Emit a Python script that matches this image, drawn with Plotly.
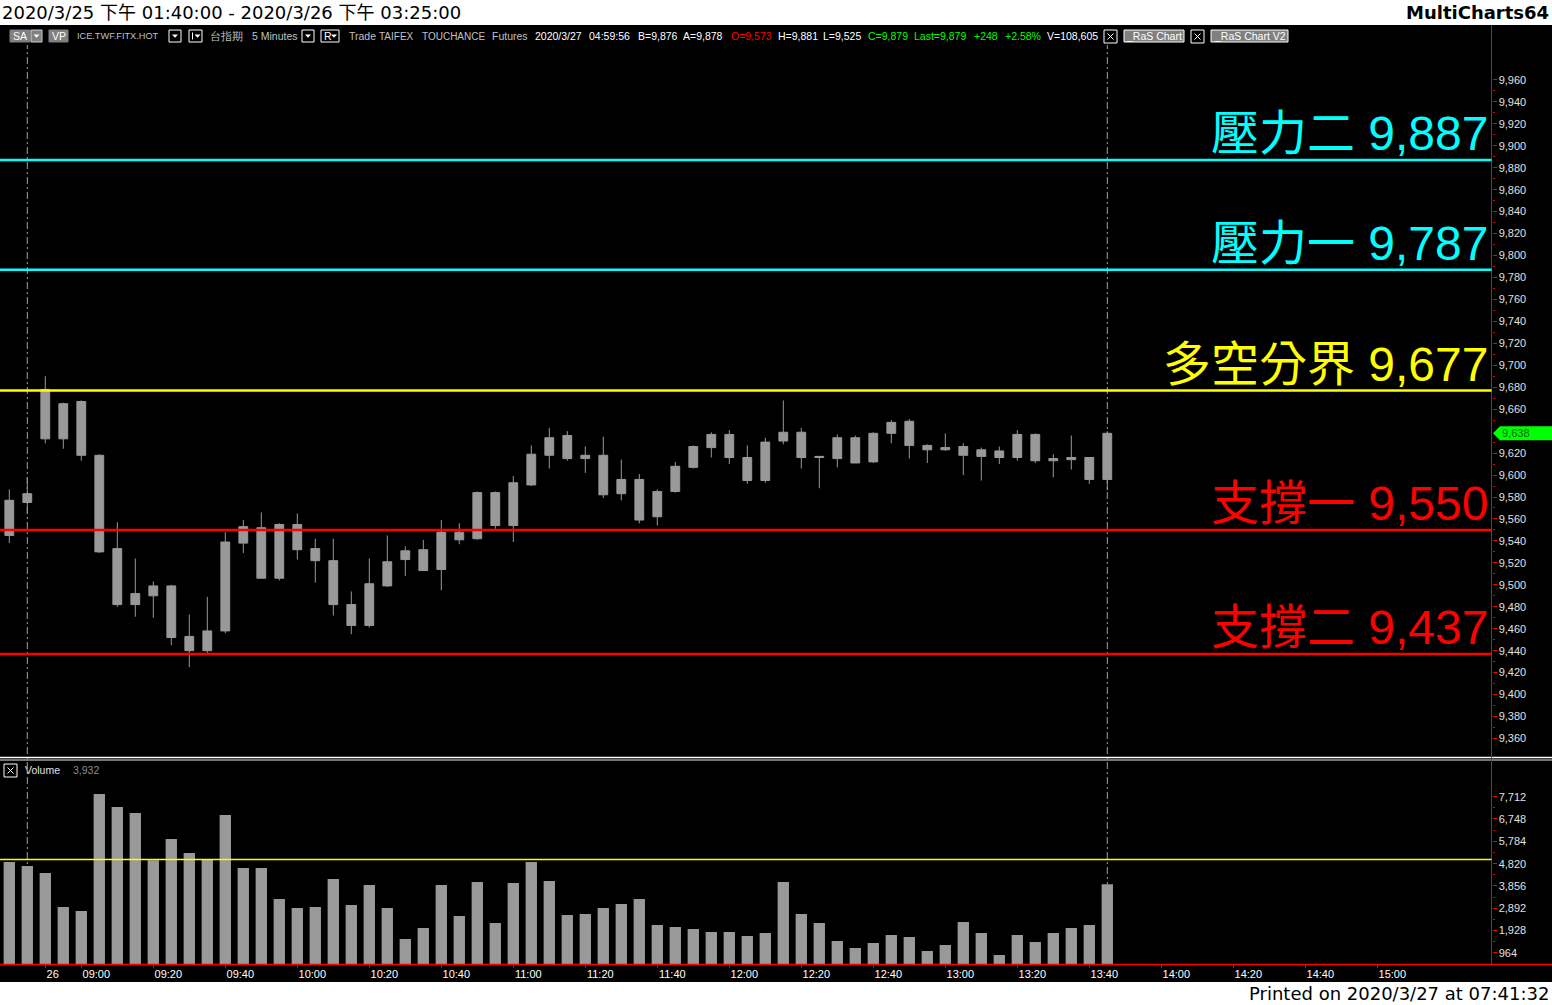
import plotly.graph_objects as go

# ---------------- data ----------------
bar_times = [
    "2020/3/25 13:45",
    "2020/3/26 08:45", "2020/3/26 08:50", "2020/3/26 08:55", "2020/3/26 09:00", "2020/3/26 09:05",
    "2020/3/26 09:10", "2020/3/26 09:15", "2020/3/26 09:20", "2020/3/26 09:25", "2020/3/26 09:30",
    "2020/3/26 09:35", "2020/3/26 09:40", "2020/3/26 09:45", "2020/3/26 09:50", "2020/3/26 09:55",
    "2020/3/26 10:00", "2020/3/26 10:05", "2020/3/26 10:10", "2020/3/26 10:15", "2020/3/26 10:20",
    "2020/3/26 10:25", "2020/3/26 10:30", "2020/3/26 10:35", "2020/3/26 10:40", "2020/3/26 10:45",
    "2020/3/26 10:50", "2020/3/26 10:55", "2020/3/26 11:00", "2020/3/26 11:05", "2020/3/26 11:10",
    "2020/3/26 11:15", "2020/3/26 11:20", "2020/3/26 11:25", "2020/3/26 11:30", "2020/3/26 11:35",
    "2020/3/26 11:40", "2020/3/26 11:45", "2020/3/26 11:50", "2020/3/26 11:55", "2020/3/26 12:00",
    "2020/3/26 12:05", "2020/3/26 12:10", "2020/3/26 12:15", "2020/3/26 12:20", "2020/3/26 12:25",
    "2020/3/26 12:30", "2020/3/26 12:35", "2020/3/26 12:40", "2020/3/26 12:45", "2020/3/26 12:50",
    "2020/3/26 12:55", "2020/3/26 13:00", "2020/3/26 13:05", "2020/3/26 13:10", "2020/3/26 13:15",
    "2020/3/26 13:20", "2020/3/26 13:25", "2020/3/26 13:30", "2020/3/26 13:35", "2020/3/26 13:40",
    "2020/3/26 13:45",
]

opens = [9545, 9575, 9678, 9633, 9667, 9618, 9533, 9482, 9490, 9499,
         9453, 9440, 9458, 9538, 9552, 9506, 9555, 9533, 9522, 9482,
         9463, 9499, 9523, 9532, 9514, 9548, 9542, 9584, 9554, 9591,
         9618, 9636, 9615, 9618, 9583, 9596, 9562, 9585, 9607, 9625,
         9637, 9616, 9595, 9631, 9639, 9616, 9615, 9634, 9612, 9638,
         9649, 9627, 9623, 9626, 9617, 9622, 9616, 9637, 9613, 9614,
         9616, 9596]
highs = [9587, 9598, 9690, 9666, 9668, 9619, 9557, 9524, 9503, 9500,
         9473, 9489, 9548, 9559, 9566, 9556, 9565, 9542, 9542, 9494,
         9524, 9545, 9535, 9541, 9559, 9556, 9585, 9585, 9599, 9627,
         9643, 9640, 9626, 9635, 9614, 9601, 9587, 9612, 9627, 9639,
         9641, 9627, 9634, 9668, 9643, 9617, 9637, 9636, 9639, 9650,
         9651, 9628, 9638, 9629, 9625, 9626, 9641, 9638, 9619, 9636,
         9616, 9640]
lows = [9538, 9565, 9629, 9624, 9613, 9529, 9480, 9471, 9470, 9445,
        9425, 9438, 9456, 9529, 9506, 9504, 9523, 9502, 9472, 9455,
        9461, 9498, 9508, 9513, 9495, 9537, 9541, 9551, 9539, 9590,
        9606, 9613, 9602, 9579, 9577, 9556, 9554, 9584, 9606, 9616,
        9610, 9592, 9593, 9628, 9606, 9588, 9607, 9611, 9611, 9629,
        9615, 9611, 9622, 9600, 9595, 9610, 9613, 9611, 9598, 9605,
        9592, 9586]
closes = [9577, 9583, 9633, 9665, 9618, 9530, 9482, 9492, 9499, 9452,
          9440, 9458, 9539, 9553, 9506, 9555, 9532, 9522, 9482, 9463,
          9501, 9521, 9531, 9513, 9548, 9541, 9584, 9554, 9593, 9619,
          9634, 9615, 9618, 9582, 9596, 9559, 9585, 9608, 9626, 9637,
          9616, 9595, 9630, 9639, 9616, 9617, 9634, 9611, 9638, 9648,
          9627, 9623, 9625, 9618, 9623, 9616, 9637, 9613, 9615, 9616,
          9596, 9638]
volumes = [4891, 4718, 4416, 2948, 2776, 7827, 7265, 7006, 4964, 5884,
           5280, 5021, 6920, 4632, 4632, 3294, 2905, 2948, 4157, 3035,
           3898, 2905, 1567, 2042, 3898, 2560, 4028, 2258, 3985, 4891,
           4071, 2603, 2646, 2905, 3078, 3294, 2171, 2085, 1999, 1869,
           1869, 1697, 1826, 4028, 2646, 2258, 1481, 1179, 1394, 1740,
           1653, 1049, 1308, 2301, 1826, 876, 1740, 1438, 1826, 2042,
           2171, 3932]
volume_ref_line = 5000

level_names = ["壓力二", "壓力一", "多空分界", "支撐一", "支撐二"]
level_values = [9887, 9787, 9677, 9550, 9437]

tick_times = ["08:50", "09:00", "09:20", "09:40", "10:00", "10:20", "10:40", "11:00",
              "11:20", "11:40", "12:00", "12:20", "12:40", "13:00", "13:20", "13:40",
              "14:00", "14:20", "14:40", "15:00"]
tick_text = ["26", "09:00", "09:20", "09:40", "10:00", "10:20", "10:40", "11:00",
             "11:20", "11:40", "12:00", "12:20", "12:40", "13:00", "13:20", "13:40",
             "14:00", "14:20", "14:40", "15:00"]

price_ticks = list(range(9360, 9961, 20))
volume_step = 964
volume_ticks = [volume_step * k for k in range(1, 9)]

title_text = "2020/3/25 下午 01:40:00 - 2020/3/26 下午 03:25:00"
app_text = "MultiCharts64"
printed_text = "Printed on 2020/3/27 at 07:41:32"
header_items = [
    ("ICE.TWF.FITX.HOT", "grey"), ("台指期", "grey"), ("5 Minutes", "grey"),
    ("Trade", "grey"), ("TAIFEX", "grey"), ("TOUCHANCE", "grey"), ("Futures", "grey"),
    ("2020/3/27", "white"), ("04:59:56", "white"), ("B=9,876", "white"), ("A=9,878", "white"),
    ("O=9,573", "red"), ("H=9,881", "white"), ("L=9,525", "white"),
    ("C=9,879", "green"), ("Last=9,879", "green"), ("+248", "green"), ("+2.58%", "green"),
    ("V=108,605", "white"),
]

# ---------------- styles / layout ----------------
W, H = 1552, 1005
GREY = "#999999"
LEVEL_COLORS = ["#00FFFF", "#00FFFF", "#FFFF00", "#FF0000", "#FF0000"]
TB_COLORS = {"grey": "#C0C0C0", "white": "#FFFFFF", "red": "#FF0000", "green": "#00FF00"}
HEADER_X = [75, 208, 250, 347, 377, 420, 490, 533, 587, 636, 681, 729, 776, 821, 866, 912, 972, 1003, 1045]
HEADER_SIZE = [9.2, 10.5, 10.5, 10.5, 10.0, 10.0, 10.5, 10.5, 10.5, 10.5, 10.5, 10.5, 10.5, 10.5, 10.5, 10.5, 10.5, 10.5, 10.5]
FONT = "Liberation Sans, Arial, sans-serif"
CJK_FONT = "Liberation Sans, Noto Sans CJK TC, sans-serif"

AX_X = 1491.5
PRICE_TOP, PRICE_BOT = 68, 757
VOL_TOP, VOL_BOT = 761, 964
PX_PER_PT = 1.0977
PRICE_LO = 9360 - (PRICE_BOT - 738.5) / PX_PER_PT
PRICE_HI = PRICE_LO + (PRICE_BOT - PRICE_TOP) / PX_PER_PT
VOL_PER_PX = 43.17
VOL_LO = (975.3 - VOL_BOT) * VOL_PER_PX
VOL_HI = (975.3 - VOL_TOP) * VOL_PER_PX
BAR_PX = 18.0
X_LO = -9.3 / BAR_PX
X_HI = X_LO + AX_X / BAR_PX
LABEL_CHARS = 5  # x labels are left-aligned after their tick: pad short ones


def py(p):
    return (H - p) / H


def px(p):
    return p / W


def hm(t):
    hh, mm = t.split(":")
    return int(hh) * 60 + int(mm)


idx = list(range(len(closes)))
session_start = next(i for i, t in enumerate(bar_times) if t.startswith("2020/3/26"))
session_start_min = hm(bar_times[session_start].split(" ")[1])
tick_pos = [session_start + (hm(t) - session_start_min) / 5 for t in tick_times]
tick_shown = [t + "\u00a0" * round((LABEL_CHARS - len(t)) * 1.7) for t in tick_text]

last = closes[-1]
hh = 7 / PX_PER_PT
price_ticks_shown = [v for v in price_ticks if abs(v - last) > hh + 3]

fig = go.Figure()
fig.add_trace(go.Candlestick(
    x=idx, open=opens, high=highs, low=lows, close=closes, text=bar_times,
    xaxis="x", yaxis="y", whiskerwidth=0, showlegend=False,
    increasing=dict(line=dict(color=GREY, width=1), fillcolor=GREY),
    decreasing=dict(line=dict(color=GREY, width=1), fillcolor=GREY),
))
fig.add_trace(go.Bar(
    x=idx, y=volumes, xaxis="x2", yaxis="y2", width=0.63, showlegend=False,
    marker=dict(color=GREY, line=dict(width=0)), text=bar_times, textposition="none",
))

shapes = []
annotations = []

# background black area
shapes.append(dict(type="rect", xref="paper", yref="paper", x0=0, x1=1, y0=py(982), y1=py(25),
                   fillcolor="#000000", line=dict(width=0), layer="below"))
# dashed session / current-bar lines
for xi in (session_start, idx[-1]):
    shapes.append(dict(type="line", xref="x", yref="paper", x0=xi, x1=xi, y0=py(VOL_BOT), y1=py(45),
                       line=dict(color="#A0A0A0", width=1, dash="7px,3px,2px,3px"), layer="below"))
# pane separator
shapes.append(dict(type="line", xref="paper", yref="paper", x0=0, x1=1, y0=py(757.5), y1=py(757.5),
                   line=dict(color="#FFFFFF", width=1.5)))
shapes.append(dict(type="line", xref="paper", yref="paper", x0=0, x1=1, y0=py(760), y1=py(760),
                   line=dict(color="#9A9A9A", width=1.5)))
# red axis frame
shapes.append(dict(type="line", xref="paper", yref="paper", x0=0, x1=1, y0=py(964.5), y1=py(964.5),
                   line=dict(color="#FF0000", width=1.5)))
shapes.append(dict(type="line", xref="paper", yref="paper", x0=px(AX_X), x1=px(AX_X), y0=py(964.5), y1=py(25),
                   line=dict(color="#FF0000", width=1)))
# level lines + labels
for name, val, col in zip(level_names, level_values, LEVEL_COLORS):
    shapes.append(dict(type="line", xref="x domain", yref="y", x0=0, x1=1, y0=val, y1=val,
                       line=dict(color=col, width=2.6), layer="above"))
    annotations.append(dict(xref="paper", yref="y", x=px(1490), y=val, xanchor="right", yanchor="bottom",
                            yshift=-2, showarrow=False, text=f"{name} {val:,}",
                            font=dict(family=CJK_FONT, size=48, color=col)))
# volume reference line
shapes.append(dict(type="line", xref="x2 domain", yref="y2", x0=0, x1=1, y0=volume_ref_line, y1=volume_ref_line,
                   line=dict(color="#FFFF00", width=1.3), layer="above"))

# last price marker
path = (f"M {px(1493)},{last} L {px(1500)},{last + hh} L 1,{last + hh} "
        f"L 1,{last - hh} L {px(1500)},{last - hh} Z")
shapes.append(dict(type="path", xref="paper", yref="y", path=path, fillcolor="#00FF00",
                   line=dict(width=0), layer="above"))
annotations.append(dict(xref="paper", yref="y", x=px(1500), y=last, xanchor="left", yanchor="middle",
                        showarrow=False, text=f"{last:,}", font=dict(family=FONT, size=11, color="#006400")))


def rect(x0, x1, y0, y1, fill="rgba(0,0,0,0)", line="#FFFFFF"):
    shapes.append(dict(type="rect", xref="paper", yref="paper", x0=px(x0), x1=px(x1), y0=py(y1), y1=py(y0),
                       fillcolor=fill, line=dict(color=line, width=1), layer="above"))


def tri(xc, yc, color="#FFFFFF"):
    shapes.append(dict(type="path", xref="paper", yref="paper",
                       path=f"M {px(xc - 3)},{py(yc - 1.5)} L {px(xc + 3)},{py(yc - 1.5)} L {px(xc)},{py(yc + 1.8)} Z",
                       fillcolor=color, line=dict(width=0), layer="above"))


def xbox(x0, y0, size=13):
    rect(x0, x0 + size, y0, y0 + size)
    for a, b in (((x0 + 3.5, y0 + 3.5), (x0 + size - 3.5, y0 + size - 3.5)),
                 ((x0 + 3.5, y0 + size - 3.5), (x0 + size - 3.5, y0 + 3.5))):
        shapes.append(dict(type="line", xref="paper", yref="paper", x0=px(a[0]), y0=py(a[1]),
                           x1=px(b[0]), y1=py(b[1]), line=dict(color="#FFFFFF", width=1), layer="above"))


def label(x, y, text, color, size=10.5, anchor="left", family=FONT, weight="normal"):
    annotations.append(dict(xref="paper", yref="paper", x=px(x), y=py(y), xanchor=anchor, yanchor="middle",
                            showarrow=False, text=text,
                            font=dict(family=family, size=size, color=color, weight=weight)))


TY = 36
# toolbar buttons
rect(10, 30, 30, 42, fill="#808080", line="#808080")
label(20, TY, "SA", "#FFFFFF", anchor="center")
rect(31, 42, 30, 42, fill="#808080", line="#D0D0D0")
tri(36.5, TY)
rect(49, 68, 30, 42, fill="#808080", line="#808080")
label(58.5, TY, "VP", "#FFFFFF", anchor="center")
rect(169, 181, 30, 42)
tri(175, TY)
rect(189, 202, 30, 42)
shapes.append(dict(type="line", xref="paper", yref="paper", x0=px(192.5), x1=px(192.5), y0=py(32.5), y1=py(39.5),
                   line=dict(color="#FFFFFF", width=1), layer="above"))
tri(197.5, TY)
rect(302, 314, 30, 42)
tri(308, TY)
rect(321, 339, 30, 42)
label(322, TY, "R", "#FFFFFF", size=10.5)
tri(334, TY)
for (txt, ck), x, sz in zip(header_items, HEADER_X, HEADER_SIZE):
    label(x, TY, txt, TB_COLORS[ck], size=sz)
xbox(1104, 30)
rect(1124, 1184, 30, 42, fill="#808080")
label(1154, TY, "_RaS Chart", "#FFFFFF", anchor="center")
xbox(1191, 30)
rect(1211, 1288, 30, 42, fill="#808080")
label(1249.5, TY, "_RaS Chart V2", "#FFFFFF", anchor="center")

# volume pane label
xbox(4, 764, size=13)
label(23, 770, "Volume", "#E0E0E0", size=10.5)
label(71, 770, f"{volumes[-1]:,}", "#8C8C8C", size=10.5)

# window captions
label(0, 12.5, title_text, "#000000", size=18, family="DejaVu Sans, Noto Sans CJK TC, sans-serif")
label(1551, 12.5, app_text, "#000000", size=18, anchor="right", family="DejaVu Sans, sans-serif", weight="bold")
label(1551, 993.5, printed_text, "#000000", size=18, anchor="right", family="DejaVu Sans, sans-serif")

axis_common = dict(showgrid=False, zeroline=False, showline=False, automargin=False)
fig.update_layout(
    template="none",
    width=W, height=H,
    margin=dict(l=0, r=0, t=0, b=0, pad=0),
    paper_bgcolor="#FFFFFF",
    plot_bgcolor="rgba(0,0,0,0)",
    showlegend=False,
    hovermode="closest",
    xaxis=dict(domain=[0, px(AX_X)], range=[X_LO, X_HI], anchor="y", showticklabels=False, ticks="",
               rangeslider=dict(visible=False), fixedrange=True, **axis_common),
    yaxis=dict(domain=[py(PRICE_BOT), py(PRICE_TOP)], range=[PRICE_LO, PRICE_HI], anchor="x", side="right",
               tickmode="array", tickvals=price_ticks_shown, tickformat=",d", ticks="outside", ticklen=4,
               tickcolor="#FF0000", tickwidth=1, tickfont=dict(family=FONT, size=11, color="#E0E0E0"),
               minor=dict(tickmode="array", tickvals=[v + 10 for v in price_ticks[:-1]], ticks="outside",
                          ticklen=2, tickcolor="#FF0000"),
               fixedrange=True, **axis_common),
    xaxis2=dict(domain=[0, px(AX_X)], range=[X_LO, X_HI], anchor="y2", tickmode="array", tickvals=tick_pos,
                ticktext=tick_shown, ticks="outside", ticklen=3, tickcolor="#FF0000", tickwidth=1,
                ticklabelshift=15, ticklabelstandoff=-3,
                tickfont=dict(family=FONT, size=11, color="#FFFFFF"), fixedrange=True, **axis_common),
    yaxis2=dict(domain=[py(VOL_BOT), py(VOL_TOP)], range=[VOL_LO, VOL_HI], anchor="x2", side="right",
                tickmode="array", tickvals=volume_ticks, tickformat=",d", ticks="outside", ticklen=4,
                tickcolor="#FF0000", tickwidth=1, tickfont=dict(family=FONT, size=11, color="#E0E0E0"),
                minor=dict(tickmode="array", tickvals=[v - volume_step / 2 for v in volume_ticks],
                           ticks="outside", ticklen=2, tickcolor="#FF0000"),
                fixedrange=True, **axis_common),
    shapes=shapes,
    annotations=annotations,
)

fig.write_html("out.html", config=dict(displayModeBar=False),
               post_script="document.body.style.margin='0';document.body.style.overflow='hidden';")
